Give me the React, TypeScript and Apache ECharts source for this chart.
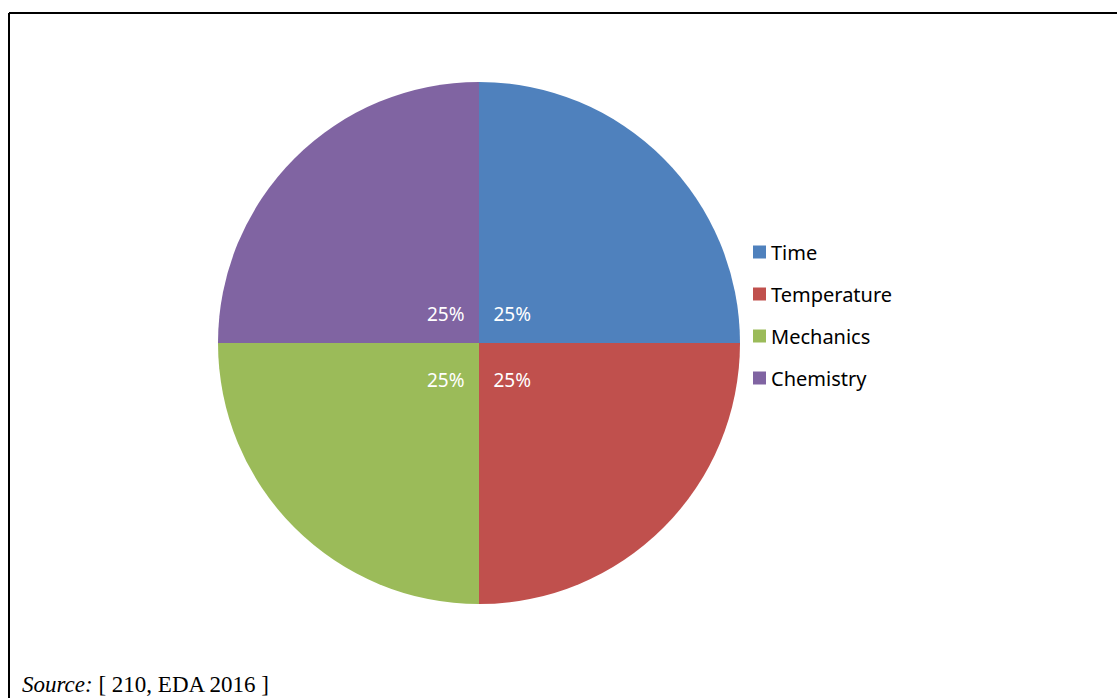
import React, { useEffect, useRef } from "react";
import * as echarts from "echarts";

const categories = ["Time", "Temperature", "Mechanics", "Chemistry"];
const values = [25, 25, 25, 25];
const colors = ["#4F81BD", "#C0504D", "#9BBB59", "#8064A2"];
const sourceText = "[ 210, EDA 2016 ]";

export default function App() {
  const ref = useRef<HTMLDivElement>(null);
  useEffect(() => {
    if (!ref.current) return;
    const chart = echarts.init(ref.current, null, { renderer: "svg" });
    const data = categories.map((name, i) => ({
      name,
      value: values[i],
      itemStyle: { color: colors[i] },
    }));
    const total = values.reduce((a, b) => a + b, 0);
    chart.setOption({
      animation: false,
      backgroundColor: "#ffffff",
      legend: {
        orient: "vertical",
        left: 748,
        top: 237,
        data: categories,
        icon: "rect",
        itemWidth: 13,
        itemHeight: 13,
        itemGap: 22,
        selectedMode: false,
        textStyle: { fontFamily: "Noto Sans", fontSize: 20, color: "#000" },
      },
      graphic: [
        {
          type: "line",
          shape: { x1: 9, y1: 13, x2: 1117, y2: 13 },
          style: { stroke: "#000", lineWidth: 2 },
        },
        {
          type: "line",
          shape: { x1: 9, y1: 13, x2: 9, y2: 698 },
          style: { stroke: "#000", lineWidth: 2 },
        },
        {
          type: "text",
          x: 22,
          y: 684,
          style: {
            text: "{i|Source:} " + sourceText,
            fontFamily: "Liberation Serif",
            fontSize: 23,
            fill: "#000",
            verticalAlign: "middle",
            rich: {
              i: { fontStyle: "italic", fontFamily: "Liberation Serif", fontSize: 23 },
            },
          },
        },
      ],
      series: [
        {
          type: "pie",
          center: [479, 343],
          radius: 261,
          startAngle: 90,
          clockwise: true,
          silent: true,
          label: { show: false },
          labelLine: { show: false },
          data,
        },
        {
          type: "pie",
          center: [479, 343],
          radius: [0, 88],
          startAngle: 90,
          clockwise: true,
          silent: true,
          itemStyle: { color: "transparent" },
          label: {
            show: true,
            position: "inside",
            offset: [0, 4],
            color: "#ffffff",
            fontFamily: "Noto Sans",
            fontSize: 19,
            formatter: (p: any) => Math.round((p.value / total) * 100) + "%",
          },
          labelLine: { show: false },
          data: categories.map((name, i) => ({
            name,
            value: values[i],
            itemStyle: { color: "transparent" },
          })),
        },
      ],
    });
    return () => chart.dispose();
  }, []);
  return (
    <div
      ref={ref}
      style={{ position: "absolute", left: 0, top: 0, width: 1117, height: 698 }}
    />
  );
}
